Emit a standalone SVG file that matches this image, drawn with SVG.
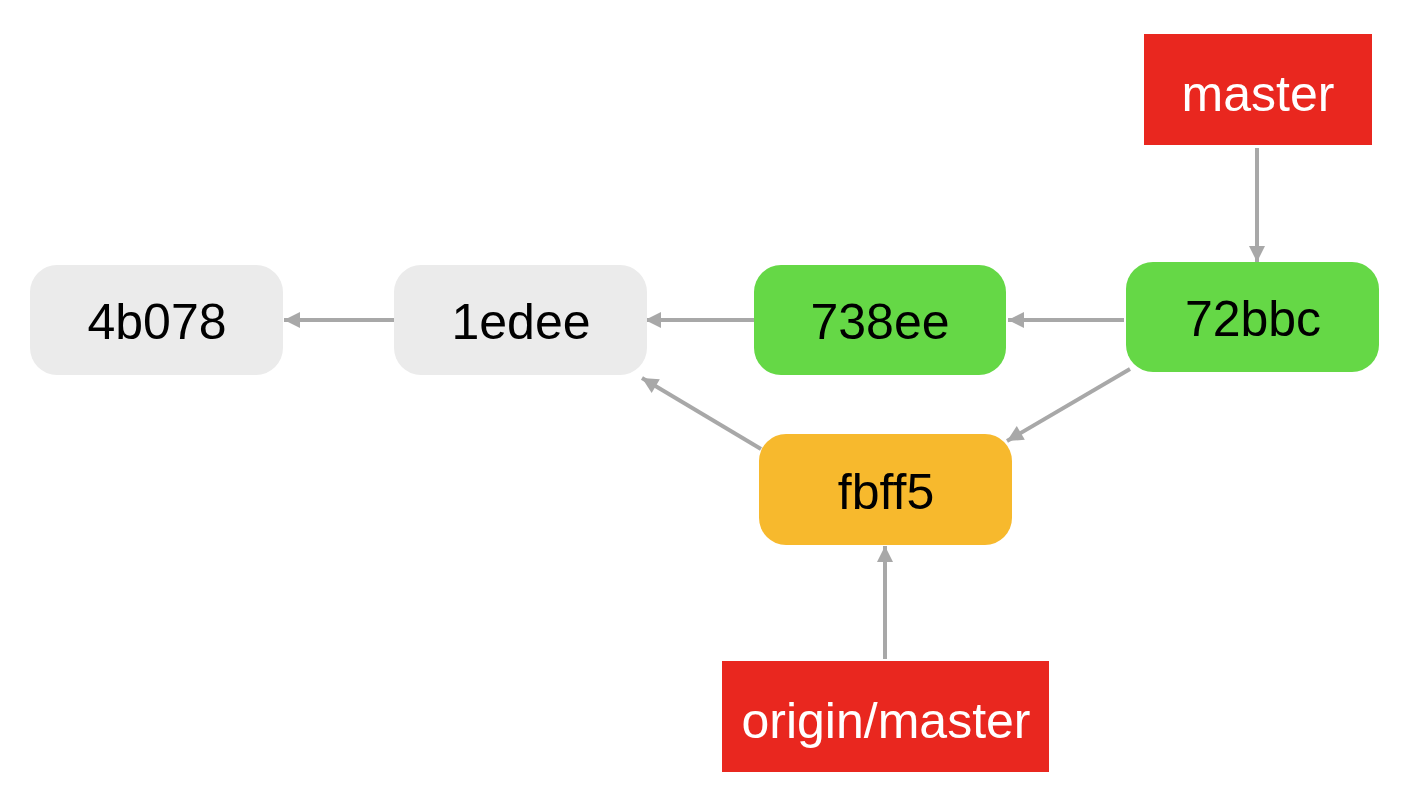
<svg xmlns="http://www.w3.org/2000/svg" width="1414" height="812" viewBox="0 0 1414 812">
<style>
text{font-family:"Liberation Sans",Arial,sans-serif;font-size:50px;text-anchor:middle}
.commit text{fill:#000}
.ref text{fill:#fff}
.gray{fill:#EBEBEB}
.green{fill:#65D846}
.orange{fill:#F7B92D}
.red{fill:#E9271F}
.conn line{stroke:#A8A8A8;stroke-width:4;marker-end:url(#ah)}
</style>
<defs>
<marker id="ah" viewBox="0 0 10 10" refX="10" refY="5" markerUnits="userSpaceOnUse" markerWidth="18" markerHeight="16" orient="auto">
<path d="M0,0 L10,5 L0,10 z" fill="#A8A8A8"/>
</marker>
</defs>
<rect width="1414" height="812" fill="#fff"/>
<g class="conn">
<line x1="394" y1="320" x2="284" y2="320"/>
<line x1="754" y1="320" x2="645" y2="320"/>
<line x1="1124" y1="320" x2="1008" y2="320"/>
<line x1="1257" y1="148" x2="1257" y2="262"/>
<line x1="761" y1="449" x2="642" y2="378"/>
<line x1="1130" y1="369" x2="1007" y2="441"/>
<line x1="885" y1="659" x2="885" y2="546"/>
</g>
<g id="n4b078" class="commit"><rect class="gray" x="30" y="265" width="253" height="110" rx="27"/><text x="157" y="339">4b078</text></g>
<g id="n1edee" class="commit"><rect class="gray" x="394" y="265" width="253" height="110" rx="27"/><text x="521" y="339">1edee</text></g>
<g id="n738ee" class="commit"><rect class="green" x="754" y="265" width="252" height="110" rx="27"/><text x="880" y="339">738ee</text></g>
<g id="n72bbc" class="commit"><rect class="green" x="1126" y="262" width="253" height="110" rx="27"/><text x="1253" y="336">72bbc</text></g>
<g id="nfbff5" class="commit"><rect class="orange" x="759" y="434" width="253" height="111" rx="27"/><text x="886" y="509">fbff5</text></g>
<g id="master" class="ref"><rect class="red" x="1144" y="34" width="228" height="111"/><text x="1258" y="111">master</text></g>
<g id="origin-master" class="ref"><rect class="red" x="722" y="661" width="327" height="111"/><text x="886" y="738">origin/master</text></g>
</svg>
